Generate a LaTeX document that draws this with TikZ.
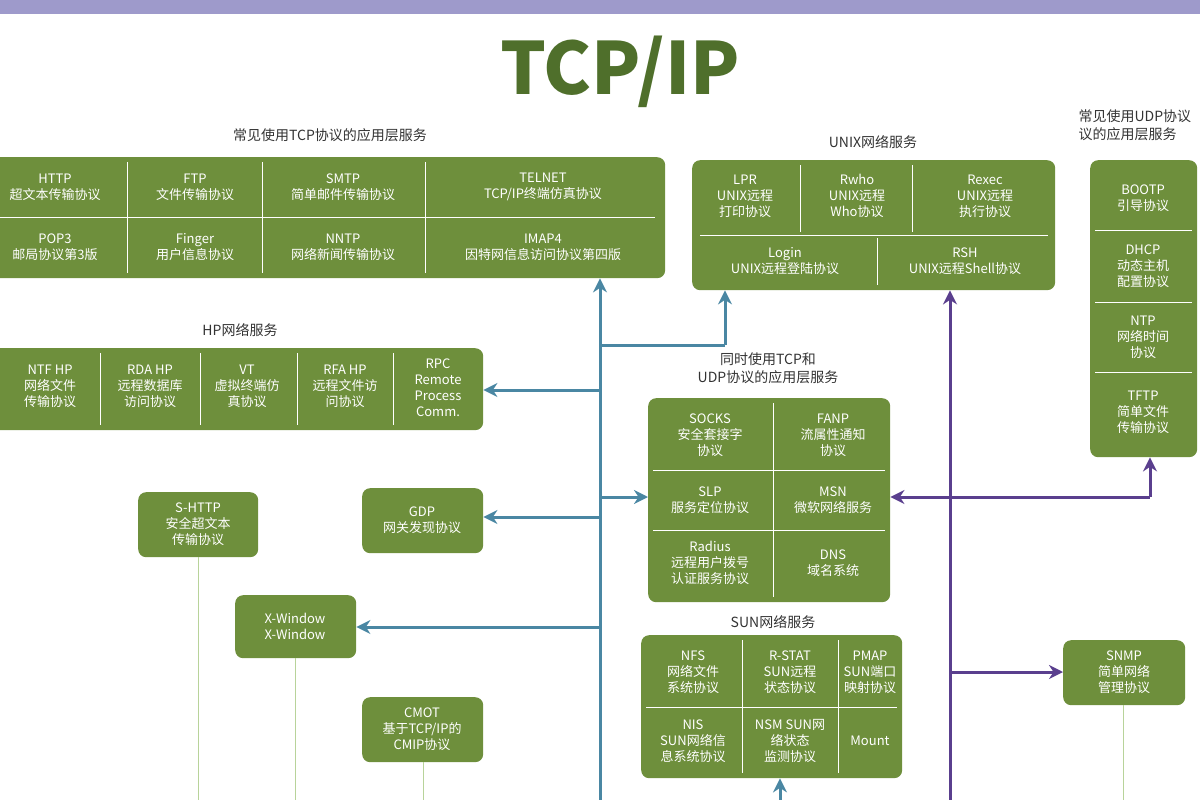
\documentclass[tikz,border=0pt]{standalone}
\usepackage{fontspec}
\setmainfont{Noto Sans CJK SC}
\usetikzlibrary{arrows.meta}
\definecolor{gbox}{HTML}{6E8F3C}
\definecolor{gtitle}{HTML}{4F6F2B}
\definecolor{ablue}{HTML}{4A87A3}
\definecolor{apur}{HTML}{5A3F8E}
\definecolor{band}{HTML}{9E9ACB}
\definecolor{lgreen}{HTML}{B8D39A}
\tikzset{
 box/.style={draw=none,fill=gbox,rounded corners=8pt,anchor=north west},
 cell/.style={text=white,align=center,font=\fontsize{13}{16}\selectfont},
 lbl/.style={text=black!80,align=center,font=\fontsize{14}{18}\selectfont},
 div/.style={draw=white,line width=1pt},
 bl/.style={draw=ablue,line width=3pt,-{Stealth[length=14pt,width=14pt]}},
 blp/.style={draw=ablue,line width=3pt},
 pu/.style={draw=apur,line width=3pt,-{Stealth[length=14pt,width=14pt]}},
 pup/.style={draw=apur,line width=3pt},
 thinl/.style={draw=lgreen,line width=1pt}
}
\newcommand{\bx}[5]{\node[box,minimum width=#4-#2,minimum height=#5-#3] (#1) at (#2,#3) {};}
\begin{document}
\begin{tikzpicture}[x=1pt,y=-1pt]
\useasboundingbox (0,0) rectangle (1200,800);
\clip (0,0) rectangle (1200,800);
\fill[band] (0,0) rectangle (1200,14);
\node[text=gtitle,font=\fontsize{72}{72}\selectfont\bfseries] (title) at (620,72) {TCP/IP};
% TCP box
\node[lbl] (ctcp) at (330,135) {常见使用TCP协议的应用层服务};
\bx{tcp}{-10}{157}{665}{278}
\draw[div] (-10,217)--(655,217) (127,162)--(127,273) (262,162)--(262,273) (425,162)--(425,273);
\node[cell] (t1) at (55,187) {HTTP\\超文本传输协议};
\node[cell] (t2) at (195,187) {FTP\\文件传输协议};
\node[cell] (t3) at (343,187) {SMTP\\简单邮件传输协议};
\node[cell] (t4) at (543,187) {TELNET\\TCP/IP终端仿真协议};
\node[cell] (t5) at (55,247) {POP3\\邮局协议第3版};
\node[cell] (t6) at (195,247) {Finger\\用户信息协议};
\node[cell] (t7) at (343,247) {NNTP\\网络新闻传输协议};
\node[cell] (t8) at (543,247) {IMAP4\\因特网信息访问协议第四版};
% UNIX
\node[lbl] (cunix) at (873,142) {UNIX网络服务};
\bx{unix}{692}{160}{1055}{290}
\draw[div] (700,235)--(1048,235) (800,165)--(800,232) (912,165)--(912,232) (877,238)--(877,285);
\node[cell] (u1) at (745,196) {LPR\\UNIX远程\\打印协议};
\node[cell] (u2) at (857,196) {Rwho\\UNIX远程\\Who协议};
\node[cell] (u3) at (985,196) {Rexec\\UNIX远程\\执行协议};
\node[cell] (u4) at (785,261) {Login\\UNIX远程登陆协议};
\node[cell] (u5) at (965,261) {RSH\\UNIX远程Shell协议};
% UDP
\node[lbl,align=left,anchor=north west] (cudp) at (1075,106) {常见使用UDP协议\\议的应用层服务};
\bx{udp}{1090}{160}{1197}{457}
\draw[div] (1095,230)--(1192,230) (1095,302)--(1192,302) (1095,372)--(1192,372);
\node[cell] (d1) at (1143,198) {BOOTP\\引导协议};
\node[cell] (d2) at (1143,266) {DHCP\\动态主机\\配置协议};
\node[cell] (d3) at (1143,337) {NTP\\网络时间\\协议};
\node[cell] (d4) at (1143,412) {TFTP\\简单文件\\传输协议};
% HP
\node[lbl] (chp) at (240,330) {HP网络服务};
\bx{hp}{-10}{348}{483}{430}
\draw[div] (100,353)--(100,425) (200,353)--(200,425) (297,353)--(297,425) (393,353)--(393,425);
\node[cell] (h1) at (50,386) {NTF HP\\网络文件\\传输协议};
\node[cell] (h2) at (150,386) {RDA HP\\远程数据库\\访问协议};
\node[cell] (h3) at (247,386) {VT\\虚拟终端仿\\真协议};
\node[cell] (h4) at (345,386) {RFA HP\\远程文件访\\问协议};
\node[cell] (h5) at (438,388) {RPC\\Remote\\Process\\Comm.};
% Both
\node[lbl] (cboth) at (768,368) {同时使用TCP和\\UDP协议的应用层服务};
\bx{both}{648}{398}{890}{602}
\draw[div] (773,403)--(773,597) (653,470)--(885,470) (653,530)--(885,530);
\node[cell] (b1) at (710,435) {SOCKS\\安全套接字\\协议};
\node[cell] (b2) at (833,435) {FANP\\流属性通知\\协议};
\node[cell] (b3) at (710,500) {SLP\\服务定位协议};
\node[cell] (b4) at (833,500) {MSN\\微软网络服务};
\node[cell] (b5) at (710,563) {Radius\\远程用户拨号\\认证服务协议};
\node[cell] (b6) at (833,563) {DNS\\域名系统};
% SUN
\node[lbl] (csun) at (773,622) {SUN网络服务};
\bx{sun}{641}{635}{902}{778}
\draw[div] (742,640)--(742,773) (838,640)--(838,773) (646,707)--(897,707);
\node[cell] (s1) at (693,672) {NFS\\网络文件\\系统协议};
\node[cell] (s2) at (790,672) {R-STAT\\SUN远程\\状态协议};
\node[cell] (s3) at (870,672) {PMAP\\SUN端口\\映射协议};
\node[cell] (s4) at (693,741) {NIS\\SUN网络信\\息系统协议};
\node[cell] (s5) at (790,741) {NSM SUN网\\络状态\\监测协议};
\node[cell] (s6) at (870,741) {Mount};
% small boxes
\bx{shttp}{138}{492}{258}{557}
\node[cell] (sh) at (198,524) {S-HTTP\\安全超文本\\传输协议};
\bx{gdp}{362}{488}{483}{553}
\node[cell] (gd) at (422,520) {GDP\\网关发现协议};
\bx{xw}{235}{595}{356}{658}
\node[cell] (xwt) at (295,626) {X-Window\\X-Window};
\bx{cmot}{362}{697}{483}{762}
\node[cell] (cm) at (422,729) {CMOT\\基于TCP/IP的\\CMIP协议};
\bx{snmp}{1063}{640}{1185}{705}
\node[cell] (sn) at (1124,672) {SNMP\\简单网络\\管理协议};
% thin lines
\coordinate (e1) at (198,800); \coordinate (e2) at (295,800);
\coordinate (e3) at (423,800); \coordinate (e4) at (1123,800);
\draw[thinl] (shttp.south -| e1) -- (e1);
\draw[thinl] (xw.south -| e2) -- (e2);
\draw[thinl] (cmot.south -| e3) -- (e3);
\draw[thinl] (snmp.south -| e4) -- (e4);
% blue
\coordinate (B0) at (600,800); \coordinate (Bu) at (600,345); \coordinate (Bu2) at (725,345);
\coordinate (Bh) at (600,390); \coordinate (Bg) at (600,517); \coordinate (Bb) at (600,497);
\coordinate (Bx) at (600,627); \coordinate (Bs) at (780,800);
\draw[bl] (B0) -- (tcp.south -| B0);
\draw[blp] (Bu) -- (Bu2); \draw[bl] (Bu2) -- (unix.south -| Bu2);
\draw[bl] (Bh) -- (hp.east |- Bh);
\draw[bl] (Bg) -- (gdp.east |- Bg);
\draw[bl] (Bb) -- (both.west |- Bb);
\draw[bl] (Bx) -- (xw.east |- Bx);
\draw[bl] (Bs) -- (sun.south -| Bs);
% purple
\coordinate (P0) at (950,800); \coordinate (Pb) at (950,497); \coordinate (Pu) at (1150,497);
\coordinate (Ps) at (950,672);
\draw[pu] (P0) -- (unix.south -| P0);
\draw[pu] (Pb) -- (both.east |- Pb);
\draw[pup] (Pb) -- (Pu); \draw[pu] (Pu) -- (udp.south -| Pu);
\draw[pu] (Ps) -- (snmp.west |- Ps);
\end{tikzpicture}
\end{document}
